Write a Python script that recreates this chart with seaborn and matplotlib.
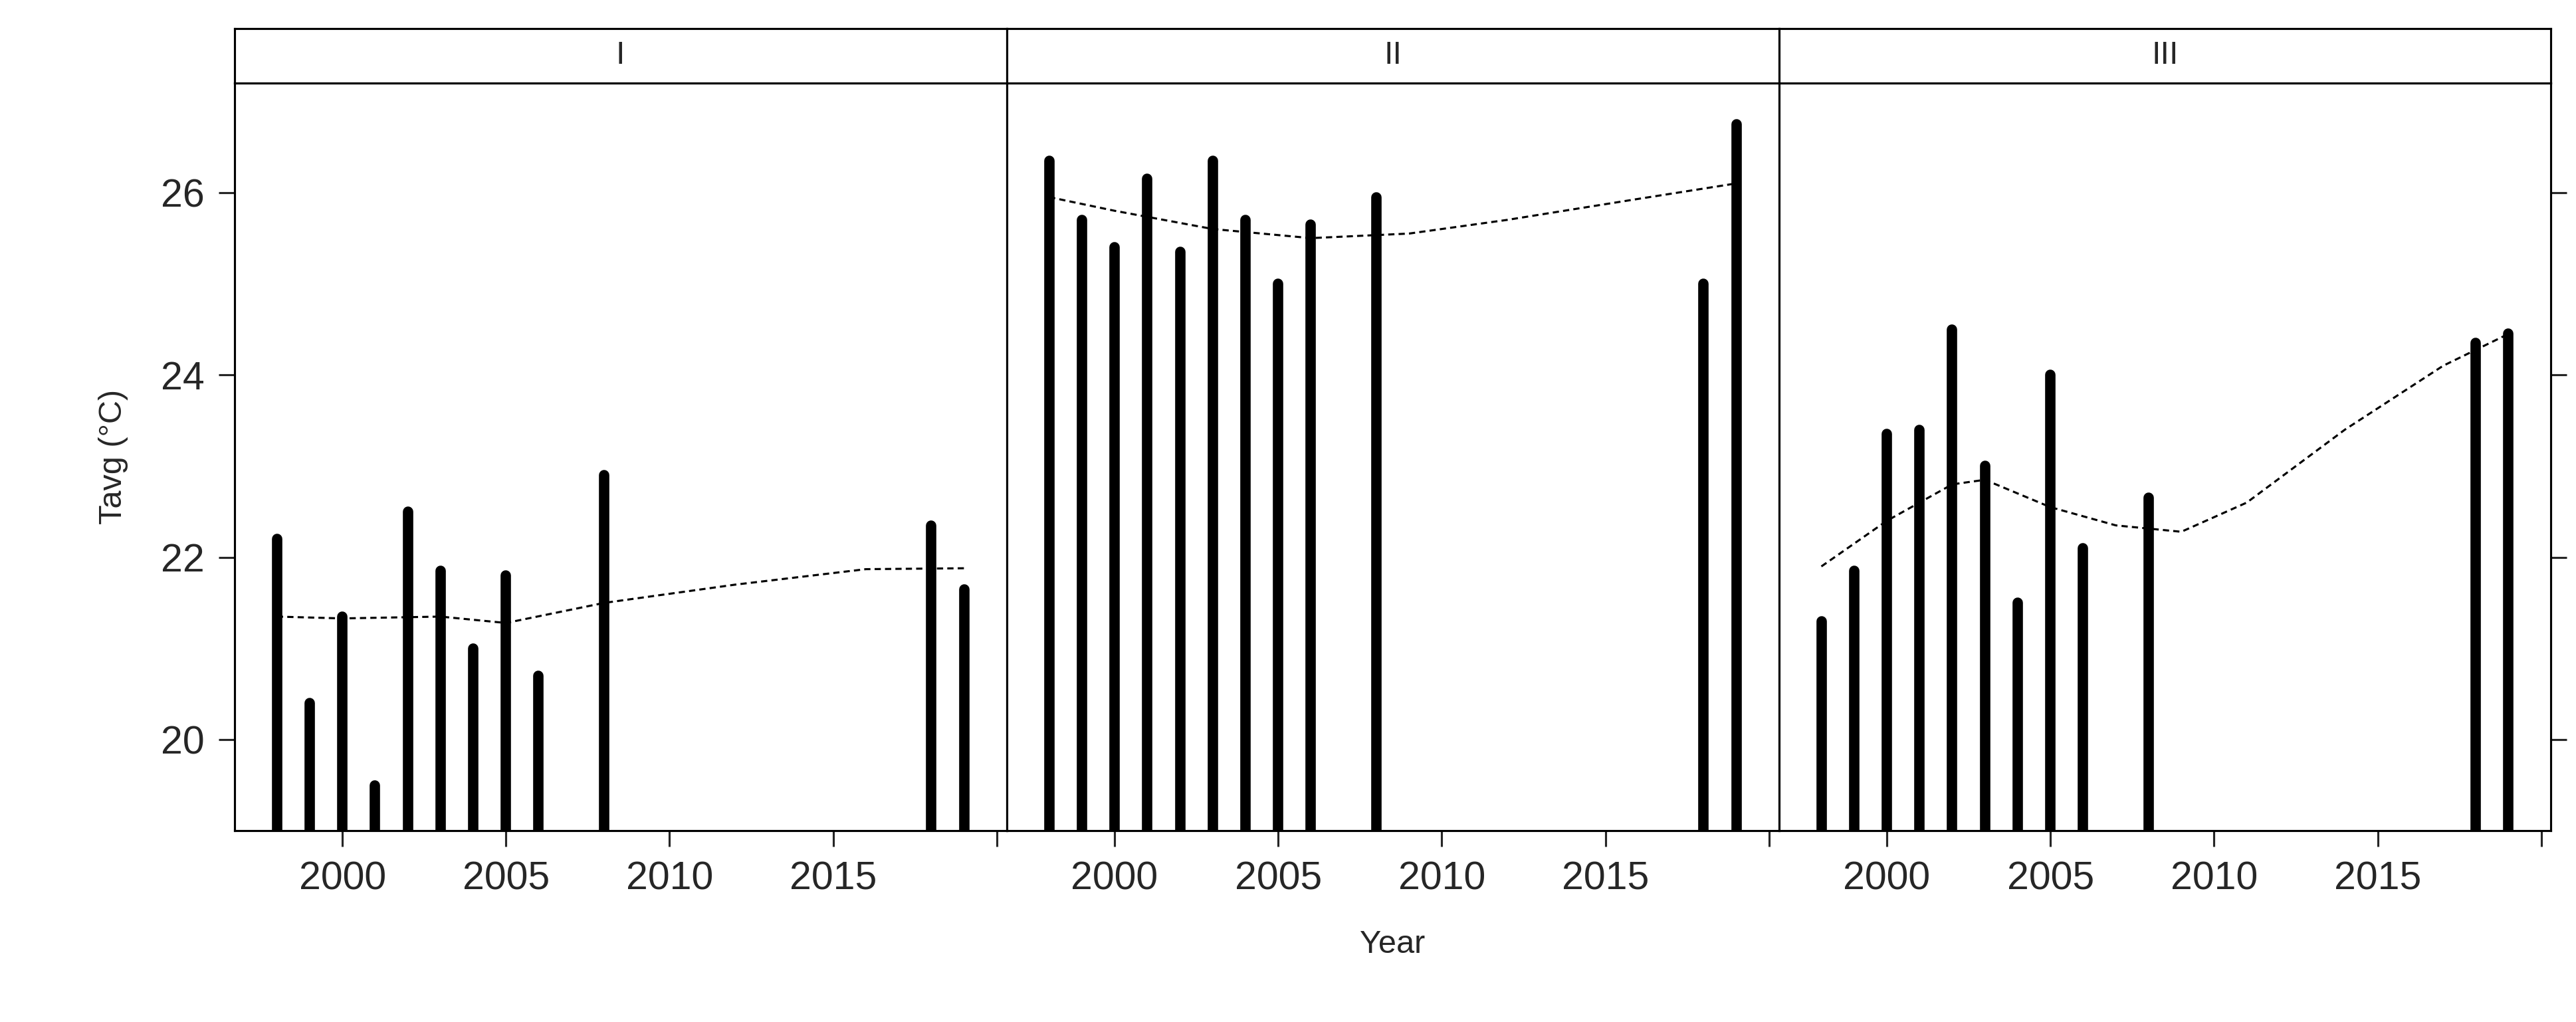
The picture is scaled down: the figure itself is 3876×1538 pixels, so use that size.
import matplotlib
matplotlib.use('Agg')
import matplotlib.pyplot as plt
import seaborn as sns
import pandas as pd

years = [1998, 1999, 2000, 2001, 2002, 2003, 2004, 2005, 2006, 2008, 2018, 2019]
panels = ['I', 'II', 'III']
tavg_I = [22.2, 20.4, 21.35, 19.5, 22.5, 21.85, 21.0, 21.8, 20.7, 22.9, 22.35, 21.65]
tavg_II = [26.35, 25.7, 25.4, 26.15, 25.35, 26.35, 25.7, 25.0, 25.65, 25.95, 25.0, 26.75]
tavg_III = [21.3, 21.85, 23.35, 23.4, 24.5, 23.0, 21.5, 24.0, 22.1, 22.65, 24.35, 24.45]

# smooth (loess) curves
smooth_years_I = [1998, 2000, 2003, 2005, 2008, 2012, 2016, 2019]
smooth_I = [21.35, 21.33, 21.35, 21.28, 21.5, 21.7, 21.87, 21.88]
smooth_years_II = [1998, 2000, 2003, 2006, 2009, 2012, 2016, 2019]
smooth_II = [25.95, 25.8, 25.6, 25.5, 25.55, 25.7, 25.93, 26.1]
smooth_years_III = [1998, 2000, 2002, 2003, 2005, 2007, 2009, 2011, 2014, 2017, 2019]
smooth_III = [21.9, 22.4, 22.8, 22.85, 22.55, 22.35, 22.28, 22.6, 23.4, 24.1, 24.45]

values = [tavg_I, tavg_II, tavg_III]
smooth_x = [smooth_years_I, smooth_years_II, smooth_years_III]
smooth_y = [smooth_I, smooth_II, smooth_III]


def main():
    sns.set_style('white')
    plt.rcParams['font.family'] = ['Liberation Sans', 'DejaVu Sans']
    fig = plt.figure(figsize=(15.504, 6.152), dpi=250)
    W, H = 1550, 615
    left, right = 141 / W, 1535 / W
    top_strip, bot_strip, bottom = 1 - 17 / H, 1 - 50 / H, 1 - 500 / H
    w = (right - left) / 3
    for i, name in enumerate(panels):
        ax = fig.add_axes([left + i * w, bottom, w, bot_strip - bottom])
        strip = fig.add_axes([left + i * w, bot_strip, w, top_strip - bot_strip])
        strip.set_xticks([])
        strip.set_yticks([])
        strip.text(0.5, 0.5, name, ha='center', va='center', fontsize=14)
        for s in strip.spines.values():
            s.set_color('black')
            s.set_linewidth(0.9)

        ax.vlines(years, 18, values[i], color='black', linewidth=4.5,
                  capstyle='round')
        df = pd.DataFrame({'Year': smooth_x[i], 'Tavg': smooth_y[i]})
        sns.lineplot(data=df, x='Year', y='Tavg', ax=ax, color='black',
                     linestyle=(0, (3, 2)), linewidth=0.9)
        ax.set_xlim(1996.7, 2020.3)
        ax.set_ylim(19.0, 27.2)
        ax.set_xticks([2000, 2005, 2010, 2015, 2020])
        ax.set_xticklabels(['2000', '2005', '2010', '2015', ''])
        ax.set_yticks([20, 22, 24, 26])
        ax.tick_params(axis='x', direction='out', length=7, width=0.9,
                       labelsize=17, bottom=True, pad=6)
        ax.tick_params(axis='y', direction='out', length=7, width=0.9,
                       labelsize=17, left=(i == 0), right=(i == 2),
                       labelleft=(i == 0), pad=6)
        ax.set_xlabel('Year' if i == 1 else '', fontsize=14, labelpad=14)
        ax.set_ylabel('Tavg (°C)' if i == 0 else '', fontsize=14, labelpad=14)
        for s in ax.spines.values():
            s.set_color('black')
            s.set_linewidth(0.9)
    fig.savefig('out.png', dpi=250)


if __name__ == '__main__':
    main()
